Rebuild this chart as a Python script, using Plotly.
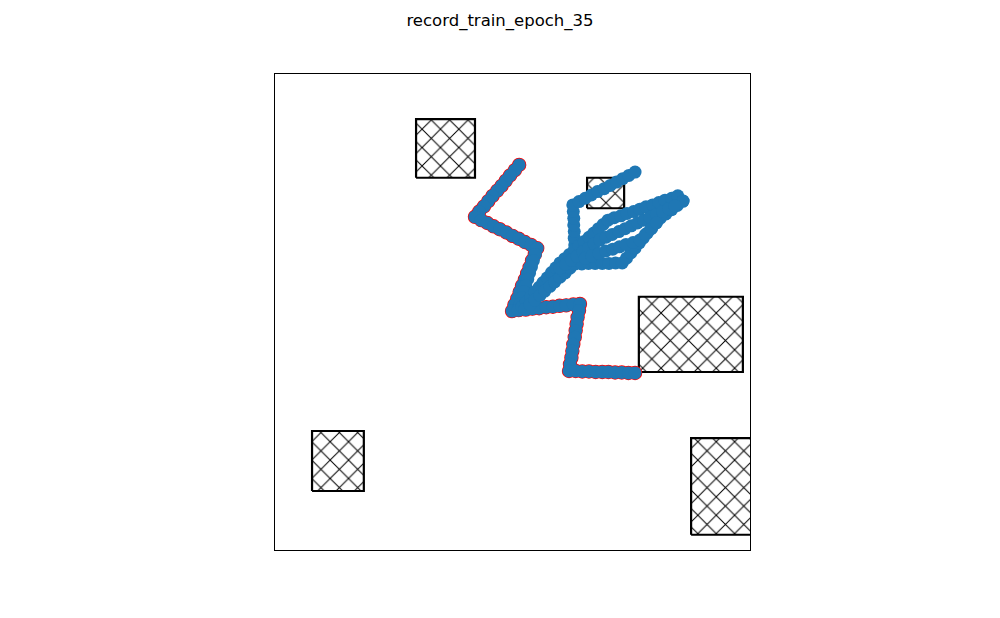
import plotly.graph_objects as go

# Obstacles (data units, axes 0..100)
rect_x0 = [29.7, 65.7, 76.6, 7.8, 87.6]
rect_x1 = [42.1, 73.5, 98.5, 18.7, 101.0]
rect_y0 = [78.2, 71.8, 37.4, 12.4, 3.2]
rect_y1 = [90.5, 78.2, 53.2, 25.0, 23.5]

# Reference path (red line, red-edged markers)
red_x = [51.4, 50.5, 49.5, 48.6, 47.7, 46.8, 45.8, 44.9, 44.0, 43.0, 42.1,
         43.4, 44.7, 46.0, 47.3, 48.7, 50.0, 51.3, 52.6, 53.9, 55.2,
         54.7, 54.1, 53.6, 53.1, 52.6, 52.0, 51.5, 51.0, 50.4, 49.9,
         51.3, 52.8, 54.2, 55.6, 57.1, 58.5, 59.9, 61.3, 62.8, 64.2,
         64.0, 63.7, 63.5, 63.3, 63.1, 62.8, 62.6, 62.4, 62.1, 61.9,
         63.3, 64.7, 66.1, 67.5, 68.9, 70.2, 71.6, 73.0, 74.4, 75.8]
red_y = [80.9, 79.8, 78.7, 77.6, 76.5, 75.5, 74.4, 73.3, 72.2, 71.1, 70.0,
         69.3, 68.7, 68.0, 67.4, 66.7, 66.0, 65.4, 64.7, 64.1, 63.4,
         62.1, 60.8, 59.4, 58.1, 56.8, 55.5, 54.2, 52.8, 51.5, 50.2,
         50.4, 50.5, 50.7, 50.8, 51.0, 51.1, 51.3, 51.4, 51.6, 51.7,
         50.3, 48.9, 47.5, 46.1, 44.7, 43.2, 41.8, 40.4, 39.0, 37.6,
         37.6, 37.5, 37.5, 37.4, 37.4, 37.4, 37.3, 37.3, 37.2, 37.2]

# Predicted trajectories (blue markers)
blue_x = [
    # T1
    54.8, 54.4, 54.0, 53.6, 53.2, 52.8, 52.4, 52.0, 51.6, 51.2,
    52.4, 53.6, 54.8, 56.0, 57.2, 58.4, 59.6, 60.8, 62.0, 63.2,
    63.1, 63.1, 63.0, 63.0, 62.9, 62.9, 62.8, 62.7,
    64.0, 65.3, 66.6, 67.9, 69.3, 70.6, 71.9, 73.2, 74.5, 75.8,
    # T2
    52.0, 52.9, 53.8, 54.7, 55.6, 56.4, 57.3, 58.2, 59.1, 60.0,
    61.0, 62.0, 63.0, 64.0, 65.1, 66.1, 67.1, 68.1, 69.1, 70.1,
    71.4, 72.8, 74.1, 75.5, 76.8, 78.1, 79.5, 80.8, 82.1, 83.5, 84.8, 85.9,
    # T3
    52.6, 53.7, 54.7, 55.8, 56.8, 57.9, 58.9, 60.0, 61.1, 62.1, 63.2,
    64.6, 66.0, 67.4, 68.9, 70.3, 71.7, 73.1,
    74.0, 74.9, 75.8, 76.7, 77.5, 78.4, 79.3, 80.2, 81.1,
    82.3, 83.5, 84.7, 85.9,
    # T4
    60.0, 61.2, 62.4, 63.6, 64.8, 66.0, 67.2, 68.4,
    69.7, 71.0, 72.4, 73.7, 75.0, 76.3, 77.6, 78.9, 80.3, 81.6, 82.9, 84.2,
    # T5
    65.3, 66.7, 68.2, 69.6, 71.1, 72.5, 73.9, 75.4, 76.8, 78.0, 79.2, 80.3,
]
blue_y = [
    # T1
    62.1, 60.8, 59.5, 58.2, 56.9, 55.6, 54.3, 53.0, 51.7, 50.4,
    51.5, 52.6, 53.7, 54.8, 55.9, 57.0, 58.0, 59.1, 60.2, 61.3,
    62.7, 64.1, 65.5, 66.9, 68.3, 69.7, 71.1, 72.5,
    73.2, 73.9, 74.6, 75.3, 75.9, 76.6, 77.3, 78.0, 78.7, 79.4,
    # T2
    51.1, 52.1, 53.1, 54.2, 55.2, 56.2, 57.2, 58.3, 59.3, 60.3,
    61.2, 62.1, 63.0, 63.9, 64.8, 65.7, 66.6, 67.5, 68.4, 69.3,
    69.8, 70.2, 70.7, 71.1, 71.6, 72.1, 72.5, 73.0, 73.5, 73.9, 74.4, 73.3,
    # T3
    50.6, 51.6, 52.5, 53.5, 54.4, 55.4, 56.3, 57.3, 58.2, 59.2, 60.1,
    60.1, 60.2, 60.2, 60.2, 60.2, 60.3, 60.3,
    61.3, 62.4, 63.4, 64.5, 65.5, 66.6, 67.6, 68.7, 69.7,
    70.6, 71.5, 72.4, 73.3,
    # T4
    59.2, 60.0, 60.9, 61.7, 62.6, 63.4, 64.3, 65.1,
    65.7, 66.3, 66.9, 67.5, 68.1, 68.7, 69.3, 69.9, 70.5, 71.1, 71.7, 72.3,
    # T5
    61.3, 61.8, 62.3, 62.8, 63.2, 63.7, 64.2, 64.6, 65.1, 66.3, 67.5, 68.7,
]

fig = go.Figure()

for x0, x1, y0, y1 in zip(rect_x0, rect_x1, rect_y0, rect_y1):
    fig.add_trace(go.Scatter(
        x=[x0, x1, x1, x0, x0], y=[y0, y0, y1, y1, y0],
        mode="lines", fill="toself", fillcolor="white",
        fillpattern=dict(shape="x", fgcolor="black", fgopacity=1,
                         bgcolor="white", size=13, solidity=0.15),
        line=dict(color="black", width=2.2),
        hoverinfo="skip", showlegend=False,
    ))

# red-edged path underneath
fig.add_trace(go.Scatter(
    x=red_x, y=red_y, mode="lines+markers",
    line=dict(color="red", width=1),
    marker=dict(size=13, color="#1f77b4", line=dict(color="red", width=1.4)),
    showlegend=False, hoverinfo="skip",
))

# blue markers on top (the path points and the predicted points)
fig.add_trace(go.Scatter(
    x=red_x + blue_x, y=red_y + blue_y, mode="markers",
    marker=dict(size=13, color="#1f77b4", line=dict(width=0)),
    showlegend=False,
))

axis_common = dict(range=[0, 100], showgrid=False, zeroline=False,
                   showticklabels=False, ticks="", showline=True,
                   linecolor="black", linewidth=1, mirror=True)

fig.update_layout(
    width=1000, height=618,
    margin=dict(l=267, r=258, t=66, b=76),
    paper_bgcolor="white", plot_bgcolor="white",
    title=dict(text="record_train_epoch_35", x=0.492, xanchor="center",
               y=0.981, yanchor="middle",
               font=dict(family="DejaVu Sans", size=16.5, color="black")),
    xaxis=axis_common,
    yaxis=axis_common,
)

fig.write_html("out.html")
